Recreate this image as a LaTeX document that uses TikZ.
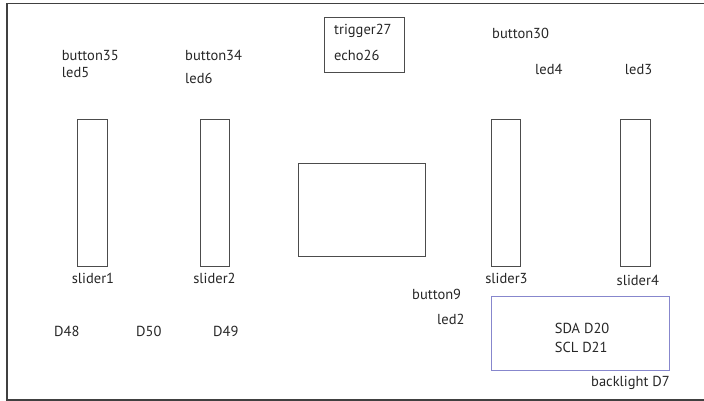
\documentclass[tikz,border=0pt]{standalone}
\usepackage{fontspec}
\setmainfont{PT Sans}
\usetikzlibrary{positioning}

\begin{document}
\begin{tikzpicture}
  [x=1pt, y=-1pt,
   box/.style={draw=black!70, line width=0.9pt, inner sep=0pt},
   slider/.style={box, minimum width=29.6pt, minimum height=147pt},
   lbl/.style={anchor=base west, inner sep=0pt, font=\fontsize{14.5}{17}\selectfont, text=black!85}]
  \useasboundingbox (0,0) rectangle (704,401);
  \draw [black!75, line width=1.2pt] (704,3.5) -- (7,3.5) -- (7,400) -- (704,400);
  % sliders and their labels
  \foreach \i/\x/\lx/\ly in {1/92.5/93/283, 2/214.85/214.5/283, 3/505.85/506.5/283, 4/635.35/637.8/285.7}{
    \node (slider\i) at (\x, 192.5) [slider] {};
    \node (name\i) at (\lx, \ly) [lbl, anchor=base] {slider\i};
  }
  \node (sensor) at (364.35, 45) [box, minimum width=80.7pt, minimum height=55.4pt] {};
  \node (screen) at (361.85, 210) [box, minimum width=127.7pt, minimum height=93.4pt] {};
  \node (lcd) at (580.35, 333.35) [box, draw={rgb,255:red,135;green,135;blue,205}, minimum width=178.7pt, minimum height=74.7pt] {};
  \node (trig) at (334, 34.5) [lbl] {trigger27};
  \node (echo) at (334, 61) [lbl] {echo26};
  \node (b35) at (61.7, 61) [lbl] {button35};
  \node (l5) at (61.7, 77.5) [lbl] {led5};
  \node (b34) at (185, 61) [lbl] {button34};
  \node (l6) at (185, 84) [lbl] {led6};
  \node (b30) at (492, 39) [lbl] {button30};
  \node (l4) at (535, 75) [lbl] {led4};
  \node (l3) at (624.7, 75) [lbl] {led3};
  \node (d48) at (54, 336) [lbl] {D48};
  \node (d50) at (136, 336) [lbl] {D50};
  \node (d49) at (213, 336) [lbl] {D49};
  \node (b9) at (412, 299) [lbl] {button9};
  \node (l2) at (437, 324) [lbl] {led2};
  \node (sda) at (554.7, 333) [lbl] {SDA D20};
  \node (scl) at (554.7, 352) [lbl] {SCL D21};
  \node (bl) at (591, 386.5) [lbl] {backlight D7};
\end{tikzpicture}
\end{document}
